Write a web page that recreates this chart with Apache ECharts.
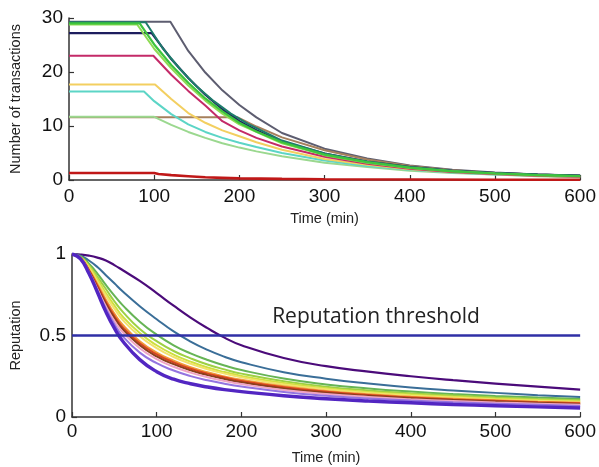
<!DOCTYPE html>
<html><head><meta charset="utf-8">
<script src="https://cdn.jsdelivr.net/npm/echarts@6/dist/echarts.min.js"></script>
<style>html,body{margin:0;padding:0;background:#fff}#c{width:599px;height:467px}</style>
</head><body><div id="c"></div>
<script>
// ---------- Top panel: number of transactions (time, value) ----------
const txGray      = [[0,29.3],[119,29.3],[140,23.9],[160,19.9],[180,16.6],[200,13.9],[220,11.6],[250,8.7],[300,5.8],[350,4.0],[400,2.7],[450,1.9],[500,1.4],[550,1.0],[600,0.8]];
const txNavy      = [[0,27.2],[97,27.2],[120,22.4],[140,18.9],[160,15.8],[180,13.1],[200,10.9],[220,9.2],[250,7.1],[300,4.9],[350,3.4],[400,2.4],[450,1.7],[500,1.3],[550,1.0],[600,0.8]];
const txTeal      = [[0,29.2],[90,29.2],[110,24.4],[130,20.6],[150,17.3],[170,14.6],[190,12.3],[210,10.4],[250,7.3],[300,4.9],[350,3.4],[400,2.4],[450,1.7],[500,1.3],[550,1.0],[600,0.8]];
const txGreen     = [[0,29.0],[83,29.0],[100,25.1],[120,21.3],[140,18.0],[160,15.1],[180,12.7],[200,10.6],[220,9.0],[250,7.0],[300,4.7],[350,3.3],[400,2.3],[450,1.6],[500,1.2],[550,0.9],[600,0.7]];
const txLime      = [[0,28.8],[80,28.8],[100,24.3],[120,20.7],[140,17.5],[160,14.7],[180,12.3],[200,10.3],[250,6.8],[300,4.6],[350,3.2],[400,2.2],[450,1.6],[500,1.2],[550,0.9],[600,0.7]];
const txCrimson   = [[0,23.0],[99,23.0],[120,19.5],[140,16.5],[160,13.8],[180,10.9],[200,9.2],[220,7.8],[250,6.2],[300,4.3],[350,3.0],[400,2.1],[450,1.5],[500,1.1],[550,0.8],[600,0.6]];
const txYellow    = [[0,17.7],[101,17.7],[120,15.0],[140,12.4],[160,10.6],[180,9.2],[200,8.1],[220,7.0],[250,5.6],[300,3.9],[350,2.8],[400,2.0],[450,1.5],[500,1.1],[550,0.8],[600,0.6]];
const txCyan      = [[0,16.4],[88,16.4],[100,14.6],[120,12.2],[140,10.3],[160,8.9],[180,7.8],[200,6.9],[220,6.1],[250,5.0],[300,3.6],[350,2.6],[400,1.9],[450,1.4],[500,1.0],[550,0.8],[600,0.6]];
const txPaleGreen = [[0,11.7],[100,11.7],[120,10.2],[140,8.9],[160,7.8],[180,6.8],[200,6.0],[220,5.3],[250,4.4],[300,3.2],[350,2.4],[400,1.7],[450,1.3],[500,1.0],[550,0.7],[600,0.5]];
const txBrown     = [[0,11.6],[198,11.6],[220,9.9],[250,7.9],[300,5.5],[350,3.8],[400,2.6],[450,1.8],[500,1.3],[550,1.0],[600,0.8]];
const txRed       = [[0,1.3],[100,1.3],[105,1.1],[120,0.9],[140,0.7],[160,0.5],[180,0.4],[200,0.3],[250,0.2],[300,0.15],[400,0.1],[500,0.06],[600,0.05]];

// ---------- Bottom panel: reputation ----------
const repTimes = [0,10,20,30,40,50,60,80,100,120,140,160,180,200,250,300,350,400,450,500,550,600];
const repPurple    = [1,0.997,0.99,0.978,0.96,0.932,0.9,0.835,0.76,0.683,0.61,0.545,0.487,0.44,0.362,0.312,0.278,0.25,0.226,0.205,0.186,0.168];
const repSteel     = [1,0.99,0.96,0.92,0.87,0.82,0.77,0.68,0.6,0.525,0.463,0.412,0.37,0.336,0.275,0.235,0.205,0.181,0.163,0.148,0.134,0.122];
const repGreen     = [1,0.985,0.94,0.88,0.81,0.745,0.685,0.585,0.505,0.44,0.39,0.35,0.316,0.288,0.236,0.2,0.175,0.156,0.141,0.129,0.119,0.11];
const repLtGreen   = [1,0.98,0.93,0.86,0.785,0.71,0.645,0.54,0.465,0.405,0.36,0.322,0.292,0.266,0.22,0.186,0.163,0.146,0.132,0.12,0.11,0.102];
const repYelGreen  = [1,0.98,0.925,0.845,0.76,0.685,0.615,0.515,0.44,0.383,0.34,0.304,0.276,0.252,0.208,0.177,0.154,0.138,0.124,0.113,0.104,0.096];
const repYellow    = [1,0.978,0.915,0.83,0.745,0.665,0.595,0.495,0.423,0.368,0.327,0.293,0.266,0.243,0.2,0.17,0.148,0.132,0.119,0.108,0.099,0.092];
const repOrange    = [1,0.976,0.905,0.815,0.72,0.635,0.565,0.465,0.395,0.345,0.305,0.274,0.249,0.228,0.188,0.16,0.139,0.124,0.112,0.102,0.094,0.087];
const repRed       = [1,0.975,0.9,0.805,0.705,0.62,0.55,0.452,0.384,0.335,0.296,0.266,0.242,0.221,0.182,0.155,0.135,0.12,0.108,0.099,0.091,0.084];
const repBrown     = [1,0.975,0.895,0.795,0.695,0.608,0.538,0.44,0.372,0.324,0.286,0.257,0.233,0.213,0.175,0.149,0.13,0.115,0.104,0.095,0.087,0.08];
const repPink      = [1,0.974,0.89,0.785,0.68,0.59,0.52,0.422,0.355,0.308,0.272,0.244,0.221,0.202,0.166,0.141,0.123,0.109,0.098,0.089,0.082,0.075];
const repViolet    = [1,0.973,0.885,0.775,0.665,0.57,0.495,0.395,0.33,0.285,0.251,0.225,0.204,0.187,0.154,0.131,0.114,0.101,0.09,0.082,0.075,0.068];
const repBlueViol  = [1,0.97,0.88,0.765,0.645,0.545,0.465,0.352,0.278,0.232,0.204,0.184,0.168,0.156,0.13,0.112,0.098,0.087,0.077,0.069,0.062,0.055];
const threshold = 0.5;
const thresholdLabel = 'Reputation threshold';

const chart = echarts.init(document.getElementById('c'), null, {renderer:'canvas'});

const axisFont = {fontFamily:'Liberation Sans, Arial, sans-serif', fontSize:19, color:'#111'};
const nameFont = {fontFamily:'Liberation Sans, Arial, sans-serif', fontSize:14.5, color:'#222'};
function xAx(gi, labelMargin, gap){
  return {type:'value', gridIndex:gi, min:0, max:600, interval:100,
    name:'Time (min)', nameLocation:'middle', nameGap:gap, nameTextStyle:nameFont,
    axisLine:{lineStyle:{color:'#333', width:1.5}},
    axisTick:{inside:true, length:5, lineStyle:{color:'#333', width:1.2}},
    axisLabel:Object.assign({margin:labelMargin}, axisFont),
    splitLine:{show:false}};
}
function yAx(gi, max, interval, name, gap){
  return {type:'value', gridIndex:gi, min:0, max:max, interval:interval,
    name:name, nameLocation:'middle', nameGap:gap, nameTextStyle:nameFont,
    axisLine:{show:true, lineStyle:{color:'#333', width:1.5}},
    axisTick:{show:true, inside:true, length:5, lineStyle:{color:'#333', width:1.2}},
    axisLabel:Object.assign({margin:6}, axisFont),
    splitLine:{show:false}};
}

function topLine(data, color, w){
  return {type:'line', xAxisIndex:0, yAxisIndex:0, data:data, showSymbol:false, symbol:'none',
    lineStyle:{color:color, width:w||2}, animation:false};
}
function repLine(vals, color, w){
  return {type:'line', xAxisIndex:1, yAxisIndex:1, data:repTimes.map((t,i)=>[t, vals[i]]),
    showSymbol:false, symbol:'none', smooth:0.5,
    lineStyle:{color:color, width:w||2}, animation:false};
}

const series = [
  topLine(txGray, '#5d5d70'),
  topLine(txBrown, '#a6805c'),
  topLine(txPaleGreen, '#9bd88f'),
  topLine(txCyan, '#5cd5c6'),
  topLine(txYellow, '#f3cf60'),
  topLine(txCrimson, '#c42a68'),
  topLine(txNavy, '#1d1d5e', 2.2),
  topLine(txTeal, '#1e7b6b'),
  topLine(txLime, '#8edb52'),
  topLine(txGreen, '#3dc43d', 2.2),
  topLine(txRed, '#c01818', 2.6),

  repLine(repPurple, '#4b0b7a', 2.2),
  repLine(repSteel, '#3a6e98'),
  repLine(repGreen, '#66b455'),
  repLine(repLtGreen, '#9dd043'),
  repLine(repYelGreen, '#cfe040'),
  repLine(repYellow, '#f2e26a'),
  repLine(repOrange, '#f09a3a'),
  repLine(repRed, '#d8441f'),
  repLine(repBrown, '#8a3e1c'),
  repLine(repPink, '#f0a4c4'),
  repLine(repViolet, '#9474e0'),
  repLine(repBlueViol, '#5226c2', 3.4),
  {type:'line', xAxisIndex:1, yAxisIndex:1, data:[[0,threshold],[600,threshold]], showSymbol:false, symbol:'none',
    lineStyle:{color:'#2f2fa6', width:2.6}, animation:false}
];

chart.setOption({
  animation:false,
  backgroundColor:'#fff',
  grid:[
    {left:64, top:18, width:517, height:162},
    {left:64, top:254, width:517, height:163}
  ],
  xAxis:[xAx(0,7,31), xAx(1,5,33)],
  yAxis:[yAx(0,30,10,'Number of transactions',46), yAx(1,1,0.5,'Reputation',49)],
  series:series
});

const p = chart.convertToPixel({xAxisIndex:1, yAxisIndex:1}, [359, threshold]);
chart.setOption({graphic:[{type:'text', x:p[0], y:p[1]-8,
  style:{text:thresholdLabel, fontFamily:'Open Sans, sans-serif', fontSize:21, fill:'#222', align:'center', verticalAlign:'bottom'}}]});
</script></body></html>
